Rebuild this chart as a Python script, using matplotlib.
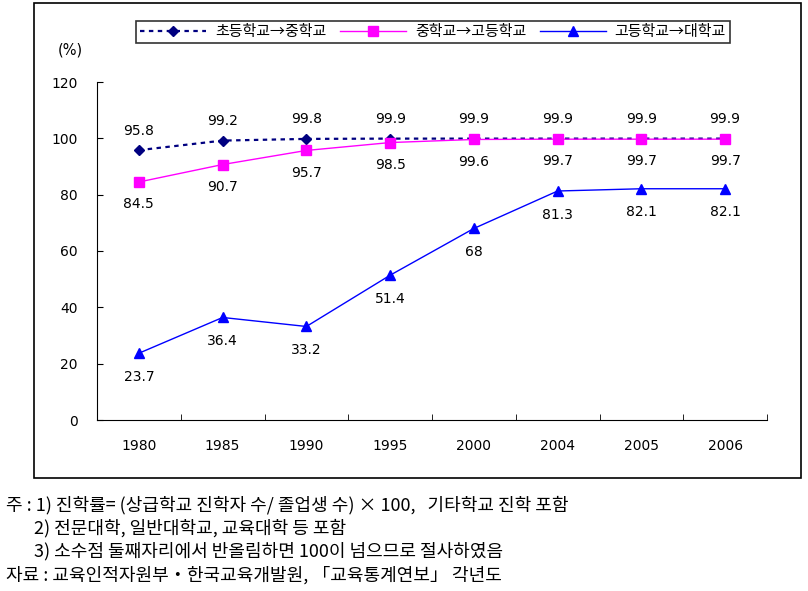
import matplotlib
matplotlib.use('agg')
import matplotlib.pyplot as plt
from matplotlib.patches import Rectangle

plt.rcParams['font.family'] = ['Noto Sans CJK KR', 'DejaVu Sans']

years = ['1980', '1985', '1990', '1995', '2000', '2004', '2005', '2006']
elem_mid = [95.8, 99.2, 99.8, 99.9, 99.9, 99.9, 99.9, 99.9]
mid_high = [84.5, 90.7, 95.7, 98.5, 99.6, 99.7, 99.7, 99.7]
high_univ = [23.7, 36.4, 33.2, 51.4, 68, 81.3, 82.1, 82.1]
labels_elem = ['95.8', '99.2', '99.8', '99.9', '99.9', '99.9', '99.9', '99.9']
labels_mid = ['84.5', '90.7', '95.7', '98.5', '99.6', '99.7', '99.7', '99.7']
labels_high = ['23.7', '36.4', '33.2', '51.4', '68', '81.3', '82.1', '82.1']
series_names = ['초등학교→중학교', '중학교→고등학교', '고등학교→대학교']
notes = [
  '주 : 1) 진학률= (상급학교 진학자 수/ 졸업생 수) × 100,   기타학교 진학 포함',
  '       2) 전문대학, 일반대학교, 교육대학 등 포함',
  '       3) 소수점 둘째자리에서 반올림하면 100이 넘으므로 절사하였음',
  '자료 : 교육인적자원부・한국교육개발원, 「교육통계연보」 각년도',
]

fig = plt.figure(figsize=(8.08, 5.91), dpi=100)
fig.patches.append(Rectangle((34 / 808, 1 - 478 / 591), (801 - 34) / 808, (478 - 3) / 591,
                             transform=fig.transFigure, fill=False, edgecolor='black', linewidth=1.2))

ax = fig.add_axes([97 / 808, 1 - 420 / 591, (767 - 97) / 808, (420 - 82) / 591])
x = list(range(len(years)))

l1, = ax.plot(x, elem_mid, color='#000080', linestyle=(0, (2, 2)), linewidth=1.6,
              marker='D', markersize=5, label=series_names[0])
l2, = ax.plot(x, mid_high, color='#FF00FF', linewidth=1.0,
              marker='s', markersize=7, label=series_names[1])
l3, = ax.plot(x, high_univ, color='#0000FF', linewidth=1.0,
              marker='^', markersize=7, label=series_names[2])

for i in x:
  ax.annotate(labels_elem[i], (i, elem_mid[i]), xytext=(0, 14), textcoords='offset points',
              ha='center', va='center', fontsize=10, family='DejaVu Sans')
  ax.annotate(labels_mid[i], (i, mid_high[i]), xytext=(0, -16), textcoords='offset points',
              ha='center', va='center', fontsize=10, family='DejaVu Sans')
  ax.annotate(labels_high[i], (i, high_univ[i]), xytext=(0, -17), textcoords='offset points',
              ha='center', va='center', fontsize=10, family='DejaVu Sans')

ax.set_xlim(-0.5, len(years) - 0.5)
ax.set_ylim(0, 120)
ax.set_yticks(range(0, 121, 20))
ax.set_xticks(x, years)
ax.set_xticks([i - 0.5 for i in range(len(years) + 1)], minor=True)
ax.tick_params(axis='x', which='major', length=0, pad=14, labelsize=10)
ax.tick_params(axis='x', which='minor', direction='in', length=4)
ax.tick_params(axis='y', direction='in', length=4, pad=14, labelsize=10)
ax.spines['top'].set_visible(False)
ax.spines['right'].set_visible(False)
for lab in ax.get_xticklabels() + ax.get_yticklabels():
  lab.set_family('DejaVu Sans')

fig.text(70 / 808, 1 - 50 / 591, '(%)', ha='center', va='center', fontsize=10.5, family='DejaVu Sans')

leg = fig.legend(handles=[l1, l2, l3], loc='center', ncol=3,
                 bbox_to_anchor=(433 / 808, 1 - 32 / 591), fontsize=10.8,
                 frameon=True, fancybox=False, edgecolor='black', handlelength=4.4,
                 columnspacing=0.9, borderpad=0.25, handletextpad=0.6)
leg.get_frame().set_linewidth(1.2)

ys = [505, 528, 551, 575]
for t, yy in zip(notes, ys):
  fig.text(6 / 808, 1 - yy / 591, t, ha='left', va='center', fontsize=13)

fig.savefig('out.png', dpi=100)
